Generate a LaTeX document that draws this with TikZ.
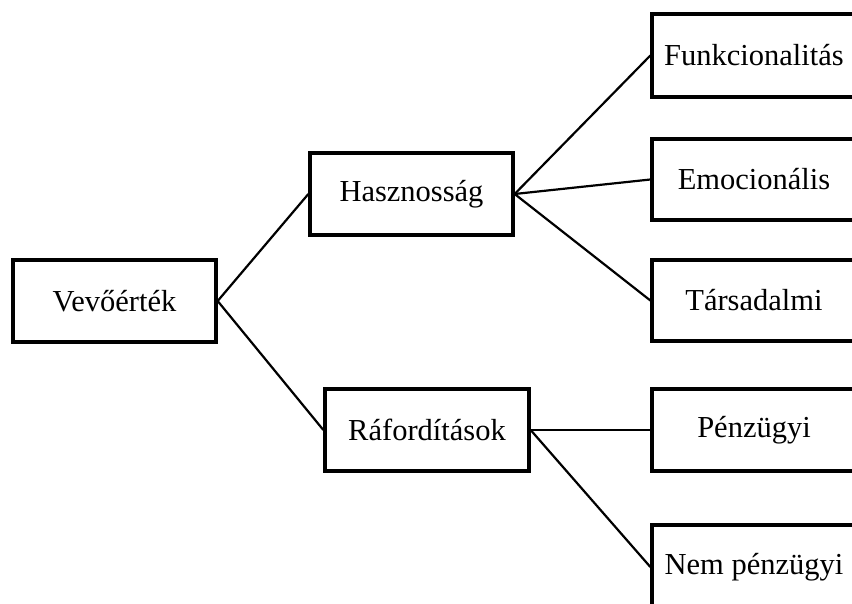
\documentclass[tikz,border=0pt]{standalone}
\usepackage{fontspec}
\setmainfont{Liberation Serif}
\begin{document}
\begin{tikzpicture}[x=1pt,y=-1pt,
  box/.style={draw=black, line width=3.3pt, fill=white, inner sep=0pt,
    font=\fontsize{30.5}{36}\selectfont},
  link/.style={draw=black, line width=2.2pt}]
\useasboundingbox (0,0) rectangle (852,604);
% box geometry: (left, top) to (right, bottom)
\newcommand\boxat[6]{%
  \node[box, minimum width=#4-#2, minimum height=#5-#3] (#1)
    at ({(#2+#4)/2},{(#3+#5)/2}) {#6};}
\boxat{root}{13}{260}{216}{342}{Vevőérték}
\boxat{hasz}{310}{153}{513}{235}{Hasznosság}
\boxat{rafo}{325}{389}{529}{471}{Ráfordítások}
\boxat{funk}{652}{14}{856}{97}{Funkcionalitás}
\boxat{emoc}{652}{139}{856}{220}{Emocionális}
\boxat{tars}{652}{260}{856}{341}{Társadalmi}
\boxat{penz}{652}{389}{856}{471}{Pénzügyi}
\boxat{nemp}{652}{525}{856}{609}{Nem pénzügyi}
% connectors
\draw[link] (root.east) -- (hasz.west);
\draw[link] (root.east) -- (rafo.west);
\draw[link] (hasz.east) -- (funk.west);
\draw[link] (hasz.east) -- (emoc.west);
\draw[link] (hasz.east) -- (tars.west);
\draw[link] (rafo.east) -- (penz.west);
\draw[link] (rafo.east) -- (nemp.west);
\end{tikzpicture}
\end{document}
